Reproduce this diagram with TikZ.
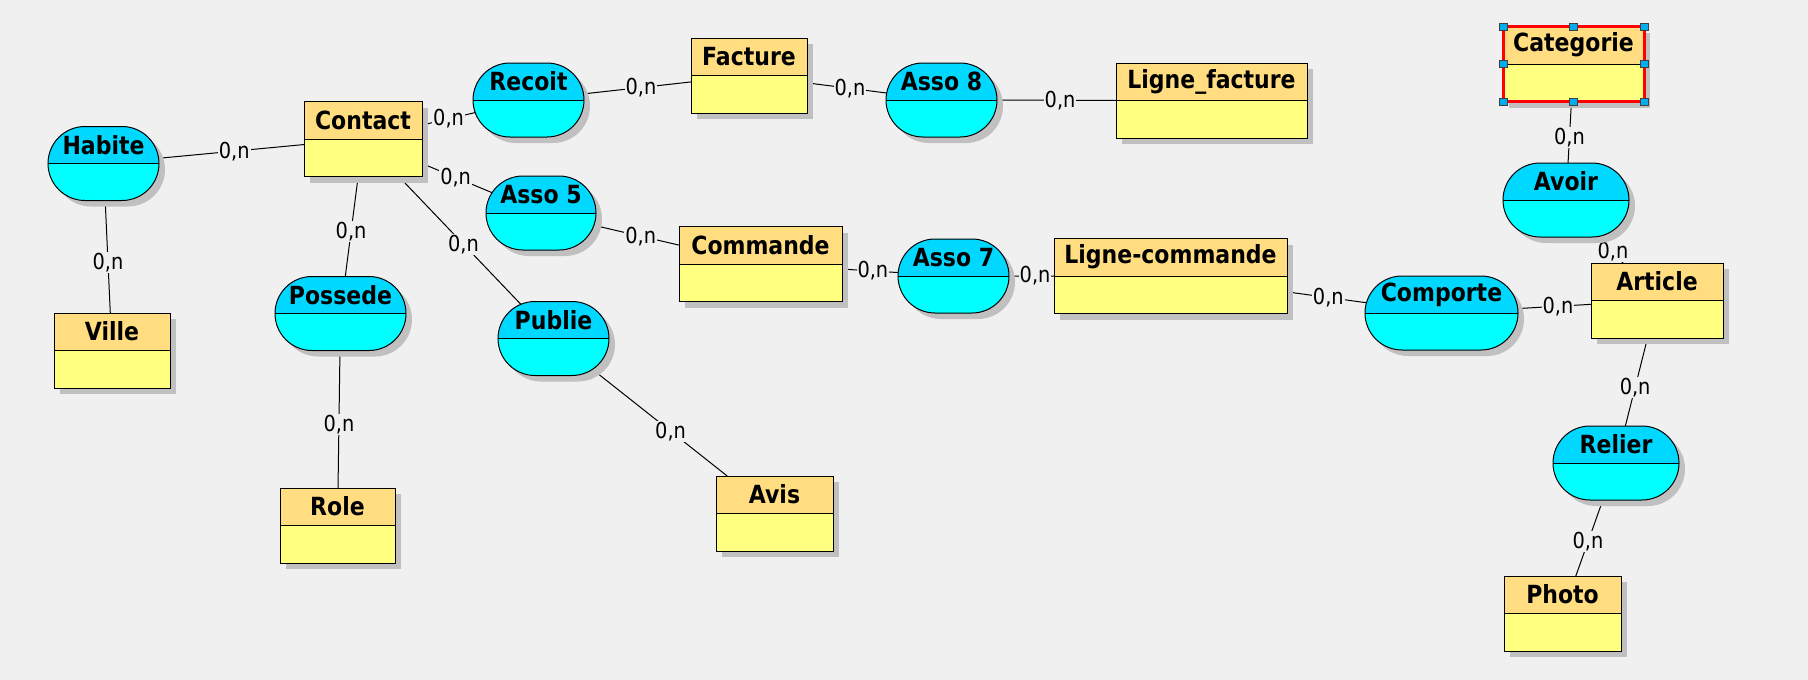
\documentclass[tikz,border=0pt]{standalone}
\usepackage{fontspec}
\setmainfont{DejaVu Sans}[FakeStretch=0.88]
\usetikzlibrary{shapes.misc,shadows}
\definecolor{fond}{HTML}{F0F0F0}
\definecolor{ombre}{HTML}{C0C0C0}
\definecolor{teteent}{HTML}{FFDD80}
\definecolor{corpsent}{HTML}{FFFF80}
\definecolor{teteasso}{HTML}{00D8FF}
\definecolor{corpsasso}{HTML}{00FFFF}
\pgfdeclarelayer{background}
\pgfsetlayers{background,main}
\tikzset{
  ombrage/.style={drop shadow={shadow xshift=6pt, shadow yshift=-6pt, fill=ombre, opacity=1}},
  bandeau/.style={path picture={
      \fill[#1] (path picture bounding box.north west) rectangle (path picture bounding box.east);
      \draw[black, line width=1pt] (path picture bounding box.west) -- (path picture bounding box.east);}},
  titre/.style={font=\fontsize{25}{30}\selectfont\bfseries, inner sep=0pt},
  entite/.style={rectangle, draw=black, line width=1pt, fill=corpsent, bandeau=teteent, ombrage,
      minimum height=75pt, inner sep=0pt, outer sep=0pt,
      label={[titre, anchor=center, yshift=-18.5pt]north:#1}},
  asso/.style={rounded rectangle, draw=black, line width=1pt, fill=corpsasso, bandeau=teteasso, ombrage,
      minimum height=74pt, inner sep=0pt, outer sep=0pt,
      label={[titre, anchor=center, yshift=-18.5pt]north:#1}},
  lien/.style={draw=black, line width=1pt},
  card/.style={fill=fond, font=\fontsize{22}{26}\selectfont, inner sep=1pt},
  poignee/.style={rectangle, minimum width=8pt, minimum height=7pt, inner sep=0pt,
      fill=cyan, draw=black!75, line width=1pt}
}
\begin{document}
\begin{tikzpicture}[x=1pt, y=-1pt]
  \useasboundingbox (0,0) rectangle (1808,680);
  % entites
  \node[entite=Contact, minimum width=118pt] (contact) at (363,139) {};
  \node[entite=Ville, minimum width=116pt] (ville) at (112,350.5) {};
  \node[entite=Role, minimum width=115pt] (role) at (337.5,525.5) {};
  \node[entite=Avis, minimum width=117pt] (avis) at (774.5,513.5) {};
  \node[entite=Facture, minimum width=116pt] (facture) at (749,75.5) {};
  \node[entite=Commande, minimum width=163pt] (commande) at (760.5,264) {};
  \node[entite=Ligne\_facture, minimum width=191pt] (lignefacture) at (1211.5,100.5) {};
  \node[entite=Ligne-commande, minimum width=233pt] (lignecommande) at (1170.5,276) {};
  \node[entite=Categorie, draw=red, line width=3pt, minimum width=141pt] (categorie) at (1573.5,64) {};
  \node[entite=Article, minimum width=132pt] (article) at (1657,300.5) {};
  \node[entite=Photo, minimum width=117pt] (photo) at (1562.5,613.5) {};
  % associations
  \node[asso=Habite, minimum width=111pt] (habite) at (103.5,163.5) {};
  \node[asso=Possede, minimum width=131pt] (possede) at (340.5,313.5) {};
  \node[asso=Recoit, minimum width=111pt] (recoit) at (528.5,100) {};
  \node[asso=Asso 5, minimum width=110pt] (asso5) at (541,213) {};
  \node[asso=Publie, minimum width=111pt] (publie) at (553.5,338.5) {};
  \node[asso=Asso 8, minimum width=111pt] (asso8) at (941.5,100) {};
  \node[asso=Asso 7, minimum width=111pt] (asso7) at (953.5,276) {};
  \node[asso=Comporte, minimum width=153pt] (comporte) at (1441.5,313) {};
  \node[asso=Avoir, minimum width=126pt] (avoir) at (1566,200) {};
  \node[asso=Relier, minimum width=126pt] (relier) at (1616,463) {};
  % selection
  \foreach \p in {north west,north,north east,east,south east,south,south west,west}
    \node[poignee] (sel-\p) at (categorie.\p) {};
  % liens
  \begin{pgfonlayer}{background}
    \fill[fond] (0,0) rectangle (1808,680);
    \draw[lien] (habite) -- node[card, pos=.52] (c1) {0,n} (contact);
    \draw[lien] (habite) -- node[card, pos=.55] (c2) {0,n} (ville);
    \draw[lien] (contact) -- node[card, pos=.55] (c3) {0,n} (possede);
    \draw[lien] (possede) -- node[card, pos=.54] (c4) {0,n} (role);
    \draw[lien] (contact) -- node[card, pos=.5] (c5) {0,n} (recoit);
    \draw[lien] (recoit) -- node[card, pos=.535] (c6) {0,n} (facture);
    \draw[lien] (facture) -- node[card, pos=.54] (c7) {0,n} (asso8);
    \draw[lien] (asso8) -- node[card, pos=.53] (c8) {0,n} (lignefacture);
    \draw[lien] (contact) -- node[card, pos=.48] (c9) {0,n} (asso5);
    \draw[lien] (asso5) -- node[card, pos=.55] (c10) {0,n} (commande);
    \draw[lien] (contact) -- node[card, pos=.53] (c11) {0,n} (publie);
    \draw[lien] (publie) -- node[card, pos=.58] (c12) {0,n} (avis);
    \draw[lien] (commande) -- node[card, pos=.55] (c13) {0,n} (asso7);
    \draw[lien] (asso7) -- node[card, pos=.58] (c14) {0,n} (lignecommande);
    \draw[lien] (lignecommande) -- node[card, pos=.52] (c15) {0,n} (comporte);
    \draw[lien] (comporte) -- node[card, pos=.55] (c16) {0,n} (article);
    \draw[lien] (categorie) -- node[card, pos=.59] (c17) {0,n} (avoir);
    \draw[lien] (avoir) -- node[card, pos=.58] (c18) {0,n} (article);
    \draw[lien] (article) -- node[card, pos=.56] (c19) {0,n} (relier);
    \draw[lien] (relier) -- node[card, pos=.55] (c20) {0,n} (photo);
  \end{pgfonlayer}
\end{tikzpicture}
\end{document}
